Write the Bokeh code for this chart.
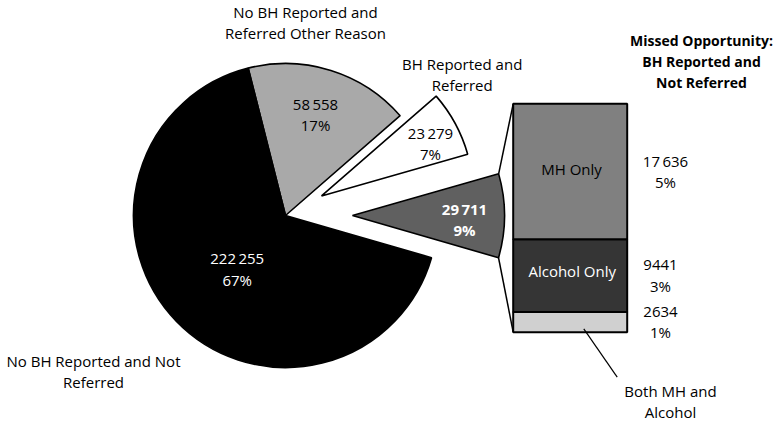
import numpy as np
from bokeh.plotting import figure
from bokeh.models import Range1d
from bokeh.core.properties import value
from bokeh.embed import file_html
from bokeh.resources import INLINE

# ---------------- data ----------------
pie_names = ["No BH Reported and Referred Other Reason", "BH Reported and Referred",
             "Missed Opportunity: BH Reported and Not Referred", "No BH Reported and Not Referred"]
pie_values = [58558, 23279, 29711, 222255]
pie_pct = ["17%", "7%", "9%", "67%"]

bar_names = ["Both MH and Alcohol", "Alcohol Only", "MH Only"]   # bottom -> top
bar_values = [2634, 9441, 17636]
bar_pct = ["1%", "3%", "5%"]

# ---------------- style / layout ----------------
pie_colors = ["#a9a9a9", "#ffffff", "#606060", "#000000"]
pie_explode = [0, 41, 67, 0]
bar_colors = ["#d0d0d0", "#353535", "#808080"]
FONT = "Open Sans"
FS = "15px"

W, H = 782, 422
def X(px):  # reference pixel -> data
    return px
def Y(py):
    return H - py

def fmt(v):
    s = f"{v:,}"
    return s.replace(",", "\u2009") if v >= 10000 else s.replace(",", "")

p = figure(width=W, height=H, x_range=Range1d(0, W), y_range=Range1d(0, H),
           output_backend="svg", toolbar_location=None, min_border=0,
           x_axis_type=None, y_axis_type=None)
p.grid.visible = False
p.outline_line_color = None

# ---------------- pie ----------------
cx, cy, R = X(285), Y(215), 152
total = sum(pie_values)
start = np.deg2rad(104.2)
cum = np.concatenate([[0], np.cumsum(pie_values)[:-1]])
a0 = start - 2 * np.pi * cum / total
a1 = a0 - 2 * np.pi * np.array(pie_values) / total
mid = (a0 + a1) / 2
wx = cx + np.array(pie_explode) * np.cos(mid)
wy = cy + np.array(pie_explode) * np.sin(mid)
p.wedge(x=wx, y=wy, radius=R, start_angle=a1, end_angle=a0, direction="anticlock",
        fill_color=pie_colors, line_color="black", line_width=1.6)

# ---------------- stacked bar ----------------
bx0, bx1 = X(512.7), X(626.7)
btop, bbot = Y(103.3), Y(331.7)
scale = (btop - bbot) / sum(bar_values)
bcum = np.concatenate([[0], np.cumsum(bar_values)])
bottoms = bbot + bcum[:-1] * scale
tops = bbot + bcum[1:] * scale
p.quad(left=[bx0] * 3, right=[bx1] * 3, bottom=bottoms, top=tops,
       fill_color=bar_colors, line_color="black", line_width=2)

# connector lines from the missed-opportunity slice to the bar
di = 2
tip_top = (wx[di] + R * np.cos(a0[di]), wy[di] + R * np.sin(a0[di]))
tip_bot = (wx[di] + R * np.cos(a1[di]), wy[di] + R * np.sin(a1[di]))
p.segment(x0=[tip_top[0], tip_bot[0]], y0=[tip_top[1], tip_bot[1]],
          x1=[bx0, bx0], y1=[btop, bbot], line_color="black", line_width=1.5)
# leader for "Both MH and Alcohol"
p.segment(x0=[X(583.3)], y0=[Y(328.3)], x1=[X(616.7)], y1=[Y(376.7)],
          line_color="black", line_width=1.2)

def txt(x, y, s, color="black", bold=False, size=FS):
    p.text(x=[X(x)], y=[Y(y)], text=[s], text_font=value(FONT), text_font_size=size,
           text_color=color, text_align="center", text_baseline="middle",
           text_font_style="bold" if bold else "normal")

# pie value labels
val_pos = [(315, 103.3, 124.3), (430, 132.7, 153.3), (464, 208.3, 229.3), (236.7, 257.3, 279)]
val_col = ["black", "black", "white", "white"]
val_bold = [False, False, True, False]
for i in range(4):
    x, y1, y2 = val_pos[i]
    txt(x, y1, fmt(pie_values[i]), val_col[i], val_bold[i])
    txt(x, y2, pie_pct[i], val_col[i], val_bold[i])

# pie category labels
txt(305, 11, "No BH Reported and")
txt(305, 32, "Referred Other Reason")
txt(461.7, 63, "BH Reported and")
txt(461.7, 84, "Referred")
txt(93, 360.7, "No BH Reported and Not")
txt(93, 381.7, "Referred")

# bar title
TS = "14px"
txt(701, 40, "Missed Opportunity:", bold=True, size=TS)
txt(701, 61, "BH Reported and", bold=True, size=TS)
txt(701, 82, "Not Referred", bold=True, size=TS)

# bar labels
txt(571, 168.3, bar_names[2])
txt(571.7, 270.7, bar_names[1], "white")
txt(665, 160.7, fmt(bar_values[2]))
txt(665, 181.7, bar_pct[2])
txt(660, 264.3, fmt(bar_values[1]))
txt(660, 285, bar_pct[1])
txt(660, 311.7, fmt(bar_values[0]))
txt(660, 331.7, bar_pct[0])
txt(670, 390, "Both MH and")
txt(670, 411.7, "Alcohol")

open("out.html", "w").write(file_html(p, INLINE))
